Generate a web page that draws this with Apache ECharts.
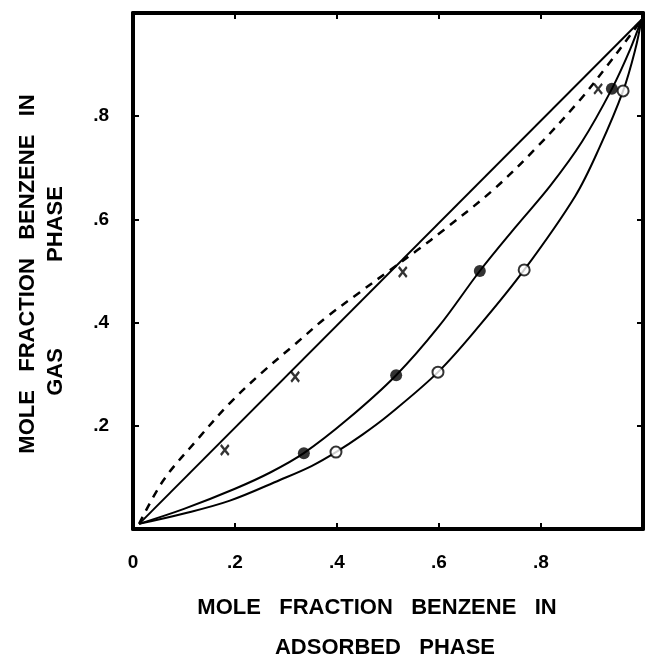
<!DOCTYPE html>
<html>
<head>
<meta charset="utf-8">
<script src="https://cdn.jsdelivr.net/npm/echarts@6/dist/echarts.min.js"></script>
<style>html,body{margin:0;padding:0;background:#fff;}#c{width:655px;height:660px;}</style>
</head>
<body>
<div id="c"></div>
<script>
// ---- data ----
const xTickLabels = ['0', '.2', '.4', '.6', '.8', ''];
const yTickLabels = ['', '.2', '.4', '.6', '.8', ''];

// diagonal reference line
const diagX = [0.012, 0.997];
const diagY = [0.010, 0.987];

// dashed curve
const dashX = [0.012, 0.060, 0.125, 0.190, 0.255, 0.320, 0.380, 0.445, 0.500, 0.557, 0.610, 0.706, 0.790, 0.876, 0.930, 0.978, 0.997];
const dashY = [0.010, 0.095, 0.172, 0.244, 0.305, 0.360, 0.411, 0.459, 0.499, 0.540, 0.580, 0.657, 0.738, 0.831, 0.898, 0.961, 0.987];

// solid curve through filled circles
const filledCurveX = [0.012, 0.100, 0.200, 0.270, 0.335, 0.420, 0.516, 0.600, 0.680, 0.750, 0.818, 0.880, 0.939, 0.975, 0.997];
const filledCurveY = [0.010, 0.039, 0.078, 0.110, 0.147, 0.212, 0.298, 0.393, 0.500, 0.585, 0.665, 0.750, 0.853, 0.930, 0.987];

// solid curve through open circles
const openCurveX = [0.012, 0.100, 0.190, 0.288, 0.350, 0.398, 0.450, 0.500, 0.598, 0.680, 0.767, 0.867, 0.915, 0.961, 0.985, 0.997];
const openCurveY = [0.010, 0.030, 0.055, 0.095, 0.122, 0.149, 0.183, 0.220, 0.304, 0.395, 0.502, 0.645, 0.740, 0.849, 0.930, 0.987];

// data markers
const crossX = [0.180, 0.318, 0.529, 0.912];
const crossY = [0.153, 0.295, 0.498, 0.853];
const filledX = [0.335, 0.516, 0.680, 0.939];
const filledY = [0.147, 0.298, 0.500, 0.853];
const openX = [0.398, 0.598, 0.767, 0.961];
const openY = [0.149, 0.304, 0.502, 0.849];

const pairs = (xs, ys) => xs.map((x, i) => [x, ys[i]]);
const FONT = '"Liberation Sans", Arial, sans-serif';

const chart = echarts.init(document.getElementById('c'), null, {renderer: 'canvas'});

const baseAxis = {
  type: 'value', min: 0, max: 1, interval: 0.2,
  splitLine: {show: false},
  axisLine: {show: true, onZero: false, lineStyle: {color: '#000', width: 4}},
  axisTick: {show: true, inside: true, length: 6, lineStyle: {color: '#000', width: 2}}
};

const titleStyle = (txt) => ({text: txt, font: 'bold 22px ' + FONT, fill: '#000', align: 'center', verticalAlign: 'middle'});

chart.setOption({
  animation: false,
  backgroundColor: '#fff',
  grid: {left: 133, top: 13, width: 510, height: 516, containLabel: false},
  xAxis: [
    Object.assign({}, baseAxis, {
      position: 'bottom',
      axisLabel: {
        show: true, margin: 24, color: '#000', fontSize: 19, fontWeight: 'bold', fontFamily: FONT,
        formatter: (v) => xTickLabels[Math.round(v / 0.2)]
      }
    }),
    Object.assign({}, baseAxis, {position: 'top', axisLabel: {show: false}})
  ],
  yAxis: [
    Object.assign({}, baseAxis, {
      position: 'left',
      axisLabel: {
        show: true, margin: 24, color: '#000', fontSize: 19, fontWeight: 'bold', fontFamily: FONT,
        formatter: (v) => yTickLabels[Math.round(v / 0.2)]
      }
    }),
    Object.assign({}, baseAxis, {position: 'right', axisLabel: {show: false}})
  ],
  graphic: [
    {type: 'text', x: 377, y: 608, style: titleStyle('MOLE   FRACTION   BENZENE   IN')},
    {type: 'text', x: 385, y: 648, style: titleStyle('ADSORBED   PHASE')},
    {type: 'text', x: 28, y: 274, rotation: Math.PI / 2, style: titleStyle('MOLE   FRACTION   BENZENE   IN')},
    {type: 'text', x: 56, y: 372, rotation: Math.PI / 2, style: titleStyle('GAS')},
    {type: 'text', x: 56, y: 224, rotation: Math.PI / 2, style: titleStyle('PHASE')}
  ],
  series: [
    {type: 'line', data: pairs(diagX, diagY), showSymbol: false, lineStyle: {color: '#000', width: 2}, z: 2},
    {type: 'line', data: pairs(dashX, dashY), showSymbol: false, smooth: 0.35,
      lineStyle: {color: '#000', width: 2.5, type: [8, 7]}, z: 2},
    {type: 'line', data: pairs(filledCurveX, filledCurveY), showSymbol: false, smooth: 0.35,
      lineStyle: {color: '#000', width: 2}, z: 2},
    {type: 'line', data: pairs(openCurveX, openCurveY), showSymbol: false, smooth: 0.35,
      lineStyle: {color: '#000', width: 2}, z: 2},
    {type: 'scatter', data: pairs(crossX, crossY), symbol: 'path://M0,0L8,10M8,0L0,10', symbolSize: [8, 10],
      itemStyle: {color: 'none', borderColor: '#000', borderWidth: 2.4}, z: 5},
    {type: 'scatter', data: pairs(filledX, filledY), symbol: 'circle', symbolSize: 12,
      itemStyle: {color: '#000'}, z: 5},
    {type: 'scatter', data: pairs(openX, openY), symbol: 'circle', symbolSize: 11,
      itemStyle: {color: '#fff', borderColor: '#000', borderWidth: 2}, z: 5}
  ]
});
</script>
</body>
</html>
